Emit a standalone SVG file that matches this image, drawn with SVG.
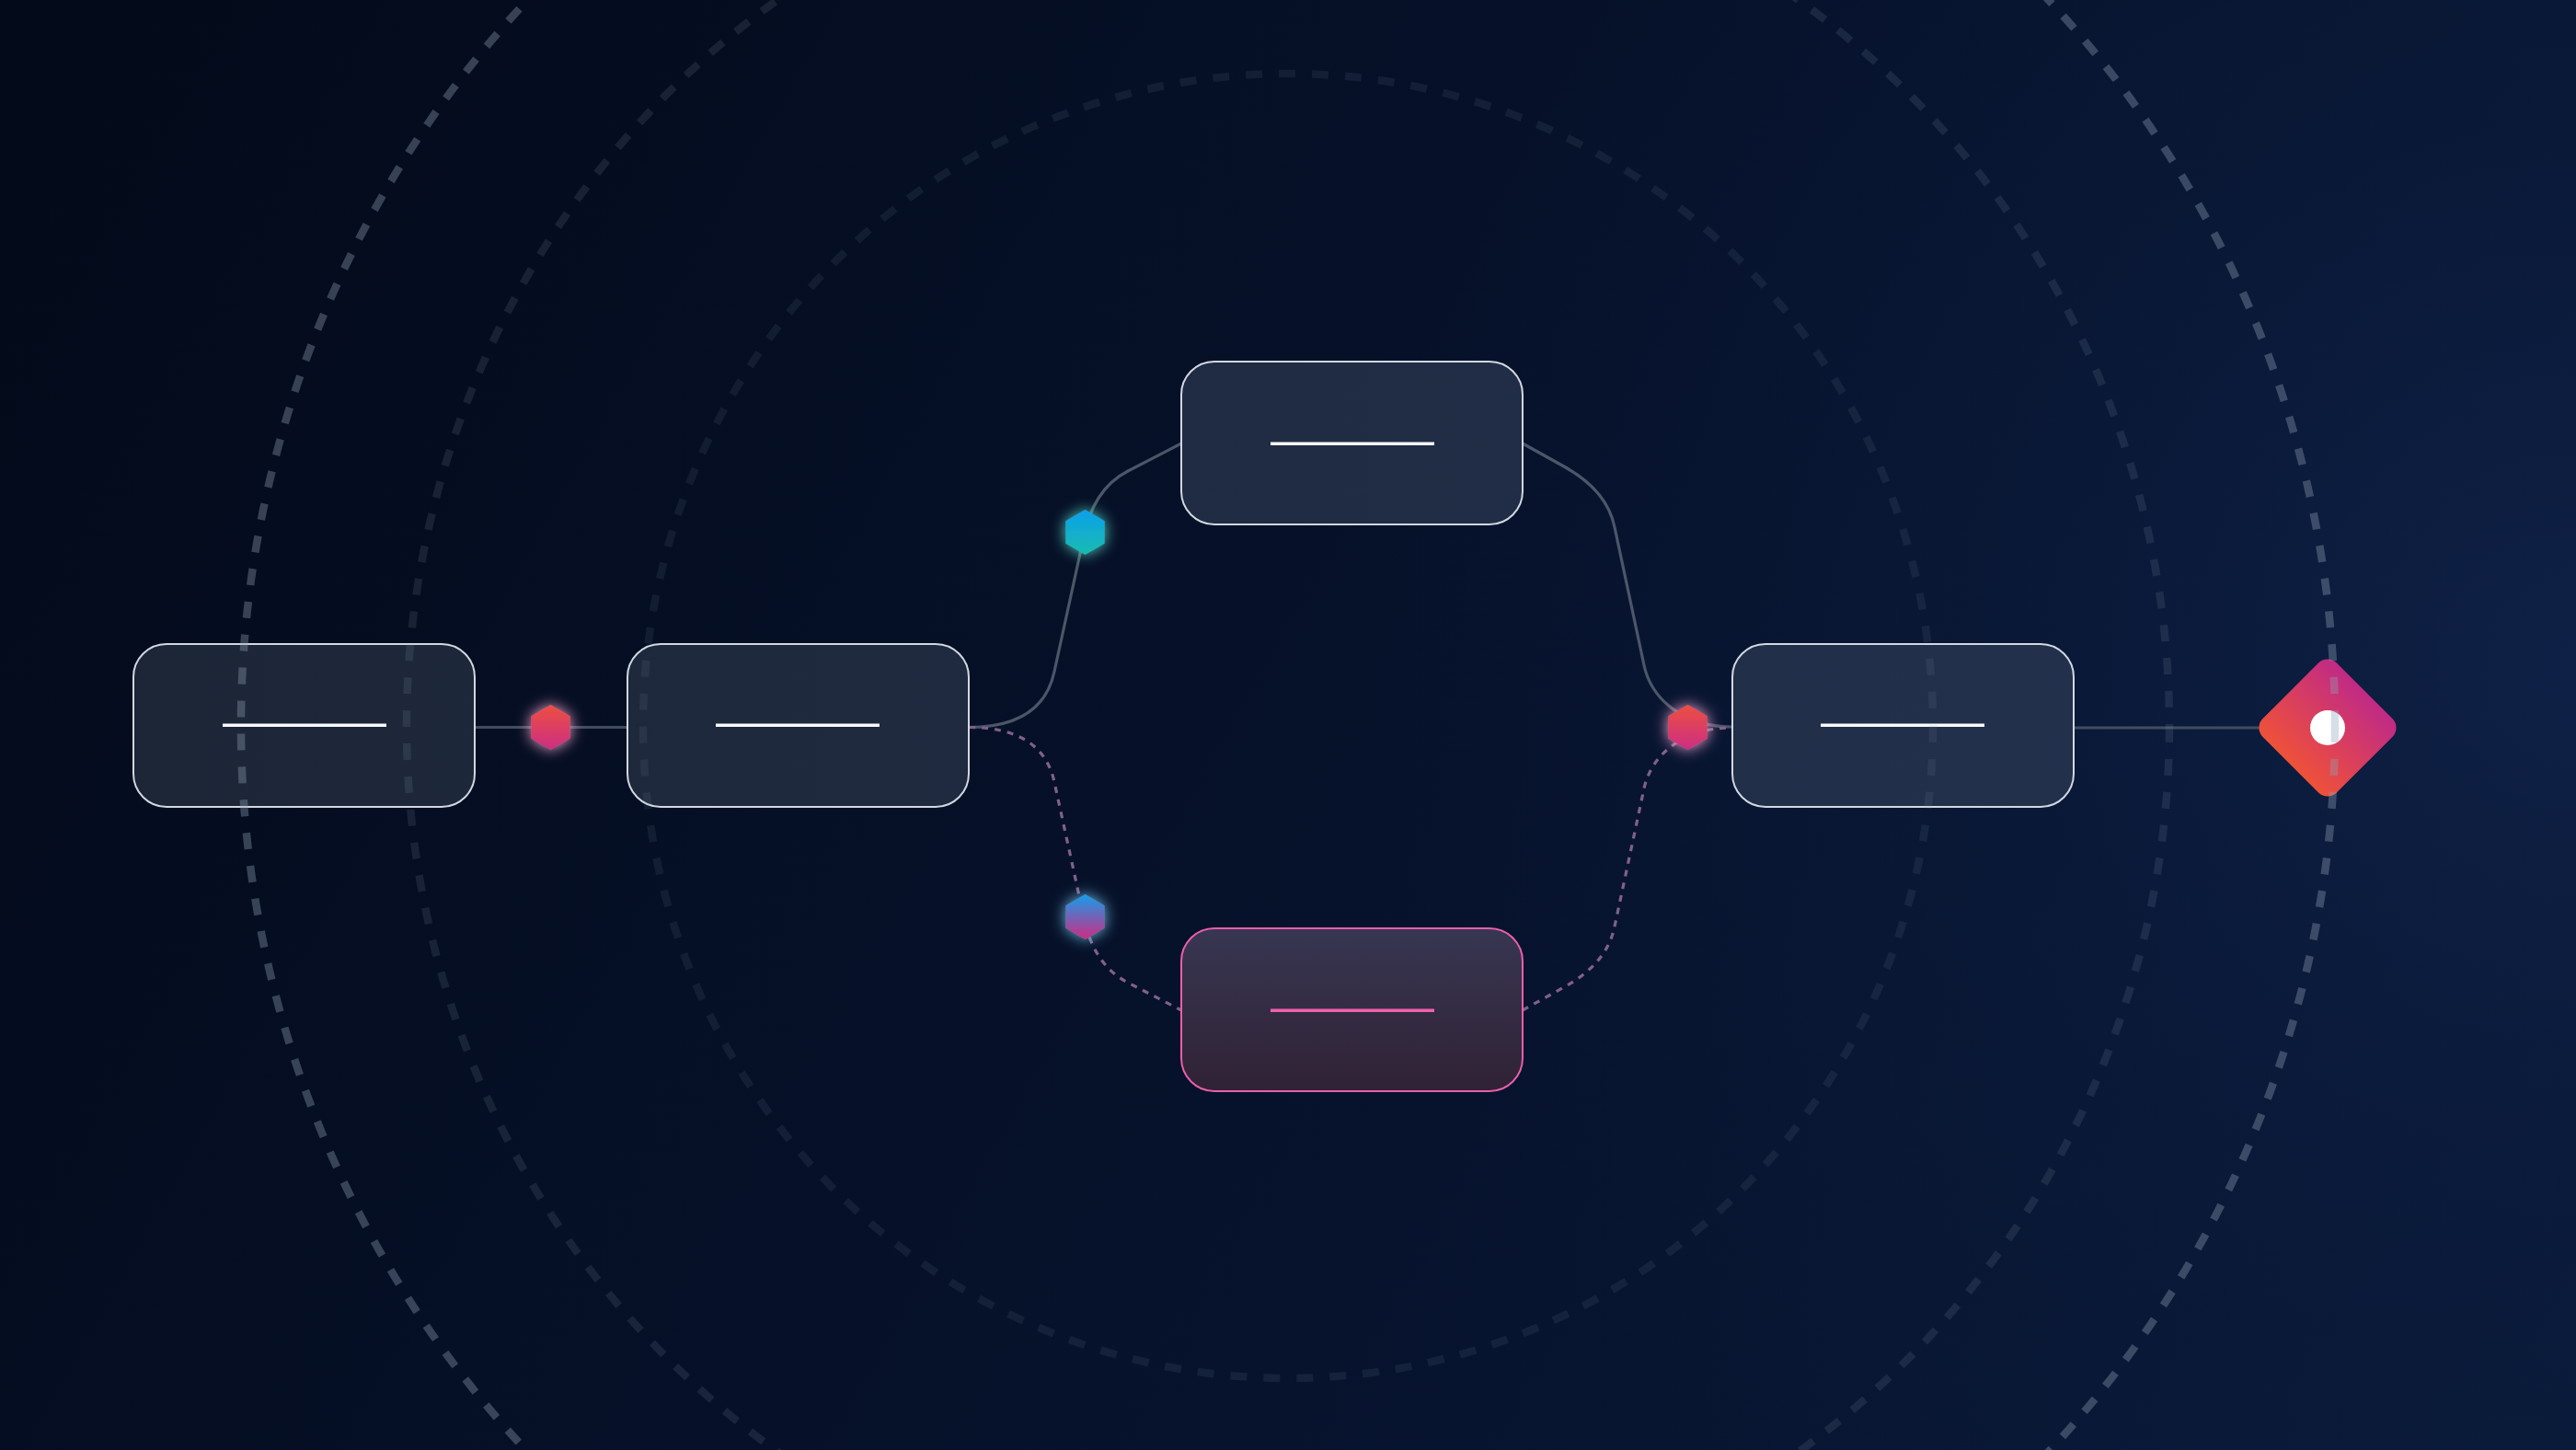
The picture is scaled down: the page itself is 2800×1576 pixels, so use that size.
<svg xmlns="http://www.w3.org/2000/svg" width="2800" height="1576" viewBox="0 0 2800 1576">
  <defs>
    <linearGradient id="bgLin" x1="0" y1="0" x2="2800" y2="1576" gradientUnits="userSpaceOnUse">
      <stop offset="0" stop-color="#030a19"/>
      <stop offset="0.5" stop-color="#06112a"/>
      <stop offset="1" stop-color="#0a1a39"/>
    </linearGradient>
    <radialGradient id="bgGlow" cx="2800" cy="720" r="1300" gradientUnits="userSpaceOnUse">
      <stop offset="0" stop-color="#0f2248" stop-opacity="0.9"/>
      <stop offset="0.45" stop-color="#0c1c3e" stop-opacity="0.5"/>
      <stop offset="1" stop-color="#0a1a39" stop-opacity="0"/>
    </radialGradient>
    <linearGradient id="nodeFill" x1="0" y1="0" x2="2800" y2="0" gradientUnits="userSpaceOnUse">
      <stop offset="0" stop-color="#1c2535"/>
      <stop offset="1" stop-color="#243352"/>
    </linearGradient>
    <linearGradient id="pinkFill" x1="0" y1="0" x2="0" y2="1">
      <stop offset="0" stop-color="#383652"/>
      <stop offset="1" stop-color="#302235"/>
    </linearGradient>
    <linearGradient id="gRed" x1="0" y1="0" x2="0" y2="1">
      <stop offset="0" stop-color="#ec5040"/>
      <stop offset="1" stop-color="#cc2d84"/>
    </linearGradient>
    <linearGradient id="gCyan" x1="0" y1="0" x2="0" y2="1">
      <stop offset="0" stop-color="#0ea0ea"/>
      <stop offset="1" stop-color="#16bcb0"/>
    </linearGradient>
    <linearGradient id="gBluePink" x1="0" y1="0" x2="0" y2="1">
      <stop offset="0" stop-color="#149eec"/>
      <stop offset="1" stop-color="#d02a82"/>
    </linearGradient>
    <linearGradient id="gDiamond" x1="0" y1="1" x2="0" y2="0">
      <stop offset="0" stop-color="#ef5139"/>
      <stop offset="1" stop-color="#c02a86"/>
    </linearGradient>
    <filter id="glowPink" x="-100%" y="-100%" width="300%" height="300%">
      <feFlood flood-color="#f9a8d4" flood-opacity="1"/>
      <feComposite in2="SourceAlpha" operator="in"/>
      <feGaussianBlur stdDeviation="8"/>
      <feMerge><feMergeNode/><feMergeNode in="SourceGraphic"/></feMerge>
    </filter>
    <filter id="glowCyan" x="-100%" y="-100%" width="300%" height="300%">
      <feFlood flood-color="#5eead4" flood-opacity="0.9"/>
      <feComposite in2="SourceAlpha" operator="in"/>
      <feGaussianBlur stdDeviation="8"/>
      <feMerge><feMergeNode/><feMergeNode in="SourceGraphic"/></feMerge>
    </filter>
    <filter id="glowBlue" x="-100%" y="-100%" width="300%" height="300%">
      <feFlood flood-color="#7dd3fc" flood-opacity="0.9"/>
      <feComposite in2="SourceAlpha" operator="in"/>
      <feGaussianBlur stdDeviation="8"/>
      <feMerge><feMergeNode/><feMergeNode in="SourceGraphic"/></feMerge>
    </filter>
    <polygon id="hex" points="0,-24.5 21.2,-12.25 21.2,12.25 0,24.5 -21.2,12.25 -21.2,-12.25"/>
    <style>
      .node { fill: url(#nodeFill); stroke: #e2e8f0; stroke-opacity: 0.92; stroke-width: 2; }
      .node-pink { fill: url(#pinkFill); stroke: #ec5fa8; stroke-width: 2; }
      .label { fill: #f8fafc; }
      .label-pink { fill: #f062ae; }
      .solid { fill: none; stroke: #4b5668; stroke-width: 3.2; stroke-linecap: round; }
      .straight { fill: none; stroke: #414d5f; stroke-width: 3.2; }
      .dashed { fill: none; stroke: #80608c; stroke-width: 3.2; stroke-dasharray: 7 7; }
      .ring { fill: none; stroke: #94a3b8; stroke-width: 8.5; stroke-dasharray: 18 18; }
    </style>
  </defs>

  <g id="background">
    <rect x="0" y="0" width="2800" height="1576" fill="url(#bgLin)"/>
    <rect x="0" y="0" width="2800" height="1576" fill="url(#bgGlow)"/>
  </g>

  <g id="connectors">
    <line class="straight" x1="516" y1="790.5" x2="682" y2="790.5"/>
    <line class="straight" x1="2255" y1="791" x2="2456" y2="791"/>
    <path class="solid" d="M1053,790.5 Q1133,790.5 1146,730 L1177,588 Q1187,532 1226,512 L1284,482"/>
    <path class="solid" d="M1655,482 L1700,507 Q1747,533 1755,573 L1787,723 C1795,760 1830,790 1882,790"/>
    <path class="dashed" d="M1053,790.5 Q1133,790.5 1146,850 L1177,992 Q1187,1048 1226,1068 L1284,1098"/>
    <path class="dashed" d="M1655,1098 L1700,1073 Q1747,1047 1755,1007 L1787,857 C1795,820 1830,791 1882,791"/>
  </g>

  <g id="node-1">
    <rect class="node" x="145" y="700" width="371" height="177" rx="36"/>
    <rect class="label" x="242" y="786.5" width="178" height="3.5"/>
  </g>
  <g id="node-2">
    <rect class="node" x="682" y="700" width="371" height="177" rx="36"/>
    <rect class="label" x="778" y="786.5" width="178" height="3.5"/>
  </g>
  <g id="node-top">
    <rect class="node" x="1284" y="393" width="371" height="177" rx="36"/>
    <rect class="label" x="1381" y="480.5" width="178" height="3.5"/>
  </g>
  <g id="node-bottom">
    <rect class="node-pink" x="1284" y="1009" width="371" height="177" rx="36"/>
    <rect class="label-pink" x="1381" y="1096.5" width="178" height="3.5"/>
  </g>
  <g id="node-right">
    <rect class="node" x="1883" y="700" width="371" height="177" rx="36"/>
    <rect class="label" x="1979" y="786.5" width="178" height="3.5"/>
  </g>

  <g id="hex-1"><use href="#hex" x="598.5" y="790.5" fill="url(#gRed)" filter="url(#glowPink)"/></g>
  <g id="hex-top"><use href="#hex" x="1179.5" y="578.5" fill="url(#gCyan)" filter="url(#glowCyan)"/></g>
  <g id="hex-bottom"><use href="#hex" x="1179.5" y="996.5" fill="url(#gBluePink)" filter="url(#glowBlue)"/></g>
  <g id="hex-merge"><use href="#hex" x="1834.5" y="790.5" fill="url(#gRed)" filter="url(#glowPink)"/></g>

  <g id="end-diamond">
    <rect x="-56.8" y="-56.8" width="113.6" height="113.6" rx="14" fill="url(#gDiamond)" transform="translate(2530,791) rotate(45)"/>
    <circle cx="2530" cy="791" r="19" fill="#ffffff"/>
  </g>

  <g id="rings">
    <ellipse class="ring" cx="1400" cy="789" rx="701" ry="709" stroke-opacity="0.1"/>
    <ellipse class="ring" cx="1400" cy="789" rx="958" ry="968" stroke-opacity="0.14"/>
    <ellipse class="ring" cx="1400" cy="789" rx="1138" ry="1148" stroke-opacity="0.36"/>
  </g>
</svg>
